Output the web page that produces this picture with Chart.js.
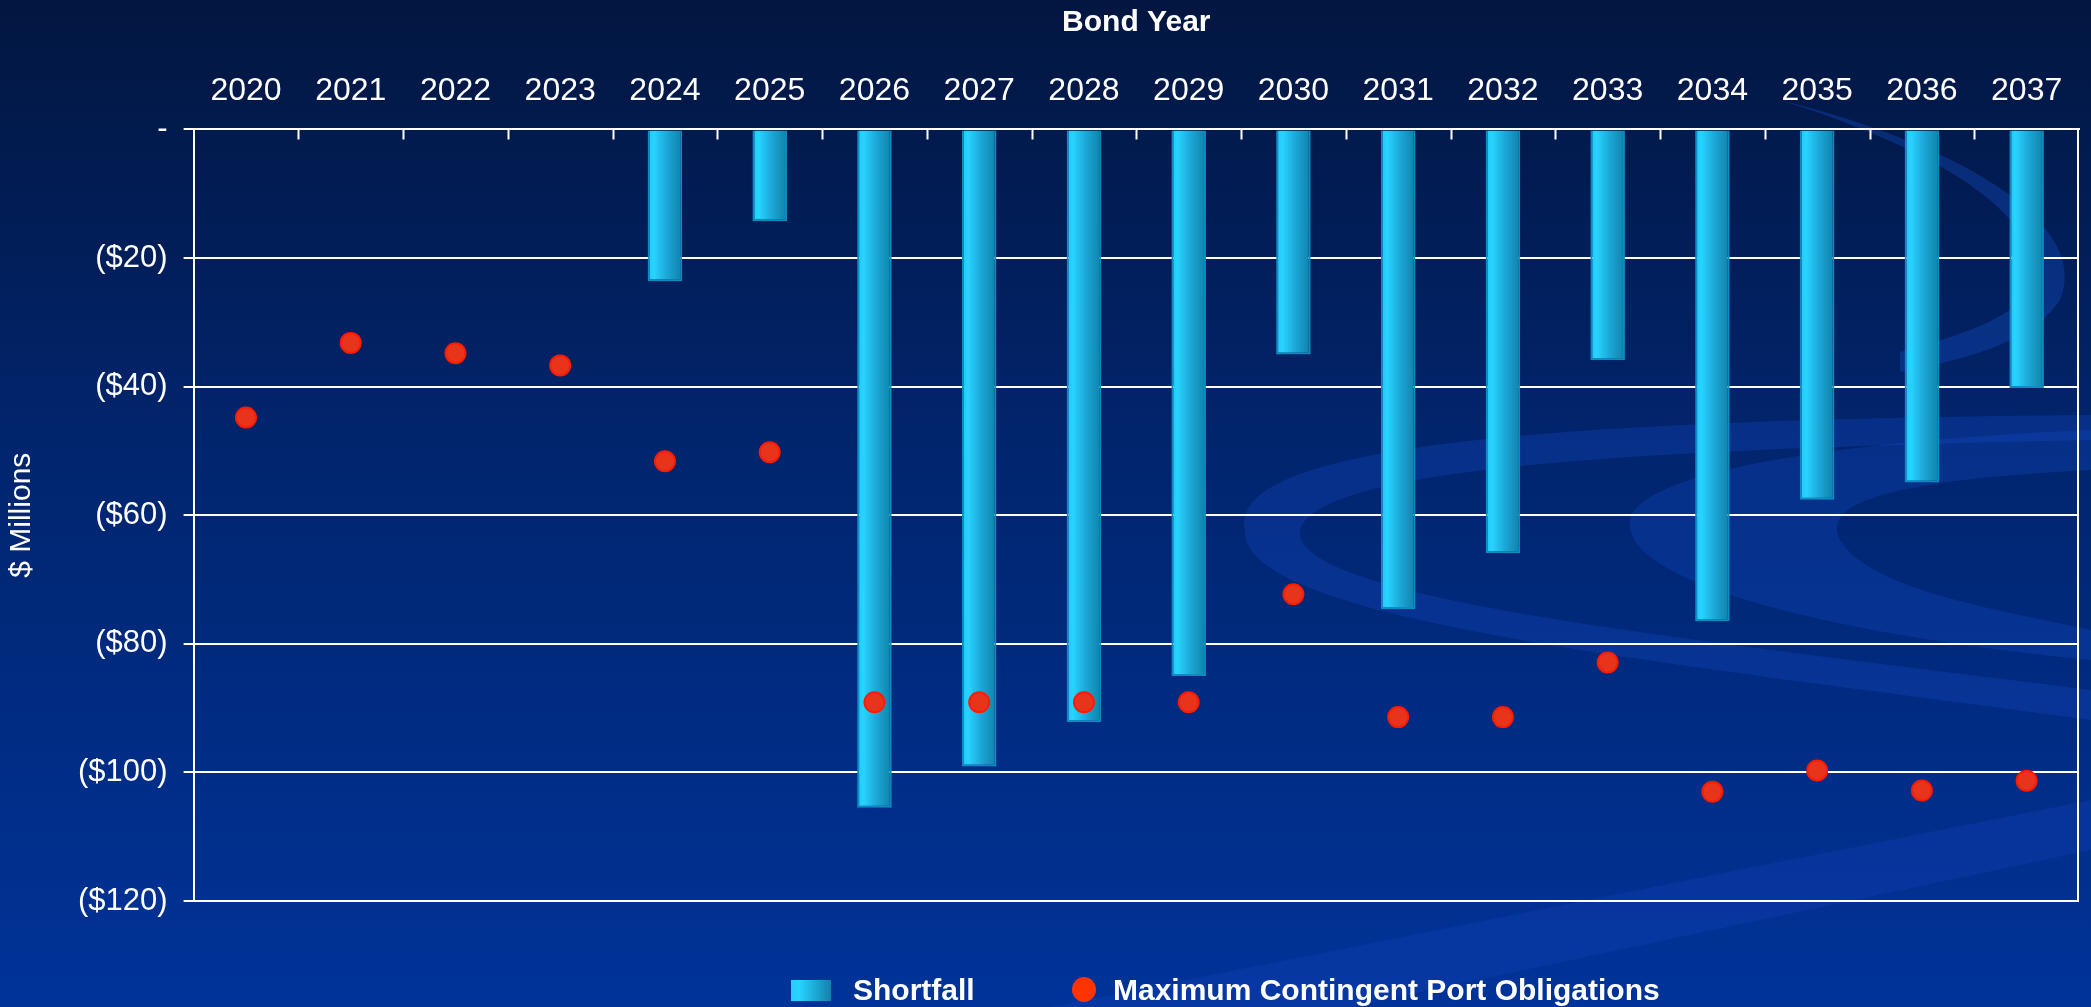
<!DOCTYPE html>
<html>
<head>
<meta charset="utf-8">
<script src="https://cdn.jsdelivr.net/npm/chart.js@4.4.1/dist/chart.umd.min.js"></script>
<style>
  html, body { margin: 0; padding: 0; background: #012a80; overflow: hidden; }
  #wrap { position: relative; width: 2091px; height: 1007px; }
  #legend { position: absolute; left: 0; top: 0; width: 100%; height: 100%; pointer-events: none;
    font-family: "Liberation Sans", Arial, sans-serif; font-weight: bold; font-size: 30px; color: #fff; }
  #legend .sw { position: absolute; left: 791px; top: 980px; width: 40px; height: 21px;
    background: linear-gradient(to right, #22cdfa, #27d3ff 20%, #1282ab); }
  #legend .dot { position: absolute; left: 1072px; top: 977px; width: 24px; height: 25px; border-radius: 50%;
    background: #ff3300; }
  #legend span { position: absolute; top: 972px; line-height: 36px; }
</style>
</head>
<body>
<div id="wrap">
  <canvas id="c"></canvas>
  <div id="legend">
    <div class="sw"></div><span style="left:853px">Shortfall</span>
    <div class="dot"></div><span style="left:1113px">Maximum Contingent Port Obligations</span>
  </div>
</div>
<script>
const YEARS = ['2020', '2021', '2022', '2023', '2024', '2025', '2026', '2027', '2028',
  '2029', '2030', '2031', '2032', '2033', '2034', '2035', '2036', '2037'];
// $ millions
const SHORTFALL = [null, null, null, null, -23.6, -14.3, -105.5, -99.1, -92.2,
  -85.0, -35.0, -74.6, -65.9, -35.9, -76.5, -57.6, -54.9, -40.2];
const MAX_OBLIGATIONS = [-44.8, -33.2, -34.8, -36.7, -51.6, -50.2, -89.1, -89.1, -89.1,
  -89.1, -72.3, -91.4, -91.4, -82.9, -103.0, -99.7, -102.8, -101.3];
const Y_MIN = -120, Y_MAX = 0, Y_STEP = 20;
const BAR_PCT = 0.33;

const FONT = '"Liberation Sans", Arial, sans-serif';

function barFill(c) {
  const chart = c.chart, xs = chart.scales.x;
  if (!xs || !chart.chartArea) return '#1fb8e8';
  const cx = xs.getPixelForValue(c.dataIndex);
  const w = (xs.width / YEARS.length) * BAR_PCT;
  const g = chart.ctx.createLinearGradient(cx - w / 2, 0, cx + w / 2, 0);
  g.addColorStop(0, '#1fc6f3');
  g.addColorStop(0.18, '#28d4ff');
  g.addColorStop(0.55, '#1ca8d8');
  g.addColorStop(1, '#1080a8');
  return g;
}

// slide background + swooshes
const backdrop = {
  id: 'backdrop',
  beforeDraw(chart) {
    const { ctx, width, height } = chart;
    ctx.save();
    const g = ctx.createLinearGradient(0, 0, 0, height);
    g.addColorStop(0, '#021640');
    g.addColorStop(0.45, '#01256e');
    g.addColorStop(1, '#003399');
    ctx.fillStyle = g;
    ctx.fillRect(0, 0, width, height);

    ctx.fillStyle = 'rgba(20,70,190,0.35)';
    ctx.beginPath();
    ctx.moveTo(1245, 530);
    ctx.bezierCurveTo(1230, 450, 1500, 420, 2091, 415);
    ctx.lineTo(2091, 440);
    ctx.bezierCurveTo(1600, 450, 1320, 470, 1300, 530);
    ctx.bezierCurveTo(1290, 600, 1700, 640, 2091, 690);
    ctx.lineTo(2091, 720);
    ctx.bezierCurveTo(1650, 660, 1240, 620, 1245, 530);
    ctx.fill();

    ctx.fillStyle = 'rgba(20,75,200,0.3)';
    ctx.beginPath();
    ctx.moveTo(1630, 520);
    ctx.bezierCurveTo(1640, 470, 1850, 440, 2091, 430);
    ctx.lineTo(2091, 470);
    ctx.bezierCurveTo(1900, 480, 1820, 500, 1840, 540);
    ctx.bezierCurveTo(1870, 590, 2000, 610, 2091, 630);
    ctx.lineTo(2091, 660);
    ctx.bezierCurveTo(1880, 640, 1620, 590, 1630, 520);
    ctx.fill();

    ctx.fillStyle = 'rgba(25,85,215,0.3)';
    ctx.beginPath();
    ctx.moveTo(1780, 100);
    ctx.bezierCurveTo(1980, 150, 2090, 230, 2060, 300);
    ctx.bezierCurveTo(2030, 345, 1960, 360, 1900, 372);
    ctx.lineTo(1900, 352);
    ctx.bezierCurveTo(1960, 335, 2010, 320, 2030, 290);
    ctx.bezierCurveTo(2050, 230, 1970, 160, 1780, 100);
    ctx.fill();

    ctx.fillStyle = 'rgba(20,70,190,0.28)';
    ctx.beginPath();
    ctx.moveTo(1050, 1007);
    ctx.lineTo(2091, 800);
    ctx.lineTo(2091, 850);
    ctx.lineTo(1350, 1007);
    ctx.fill();
    ctx.restore();
  },
  afterDraw(chart) {
    // inward tick marks on the top axis and the right frame line
    const { ctx, chartArea: a, scales: { x } } = chart;
    const step = x.width / YEARS.length;
    ctx.save();
    ctx.strokeStyle = '#ffffff';
    ctx.lineWidth = 2;
    ctx.beginPath();
    for (let i = 1; i < YEARS.length; i++) {
      const px = Math.round(a.left + step * i) + 0.5;
      ctx.moveTo(px, a.top);
      ctx.lineTo(px, a.top + 10);
    }
    ctx.moveTo(a.right - 1, a.top);
    ctx.lineTo(a.right - 1, a.bottom);
    ctx.stroke();
    ctx.restore();
  },
};

new Chart(document.getElementById('c'), {
  data: {
    labels: YEARS,
    datasets: [
      {
        type: 'bar', label: 'Shortfall', data: SHORTFALL,
        backgroundColor: barFill, borderColor: '#0b8cc2', borderWidth: 2,
        categoryPercentage: 1, barPercentage: BAR_PCT, order: 2,
      },
      {
        type: 'line', label: 'Maximum Contingent Port Obligations', data: MAX_OBLIGATIONS,
        showLine: false, pointRadius: 10, pointHoverRadius: 10,
        pointBackgroundColor: '#e8341a', pointBorderColor: '#ff1a00', pointBorderWidth: 2, order: 1,
      },
    ],
  },
  options: {
    responsive: true, maintainAspectRatio: false, animation: false,
    layout: { padding: { left: 0, right: 2, top: 0, bottom: 106 } },
    plugins: { legend: { display: false }, tooltip: { enabled: false } },
    scales: {
      x: {
        position: 'top',
        afterFit: (s) => { s.paddingLeft = 0; s.paddingRight = 0; },
        grid: { display: false, drawTicks: false },
        border: { display: true, color: '#ffffff', width: 2 },
        ticks: { color: '#ffffff', font: { family: FONT, size: 32 }, padding: 19, maxRotation: 0 },
        title: { display: true, text: 'Bond Year', color: '#ffffff',
          font: { family: FONT, size: 30, weight: 'bold' }, padding: { top: 5, bottom: 12 } },
      },
      y: {
        min: Y_MIN, max: Y_MAX,
        grid: { color: '#ffffff', lineWidth: 2, tickLength: 10, drawTicks: true },
        border: { display: true, color: '#ffffff', width: 2 },
        ticks: {
          stepSize: Y_STEP, color: '#ffffff', font: { family: FONT, size: 31 }, padding: 16,
          callback: (v) => (v === 0 ? '-' : '($' + Math.abs(v) + ')'),
        },
        title: { display: true, text: '$ Millions', color: '#ffffff',
          font: { family: FONT, size: 30 }, padding: { top: 4, bottom: 22 } },
      },
    },
  },
  plugins: [backdrop],
});
</script>
</body>
</html>
